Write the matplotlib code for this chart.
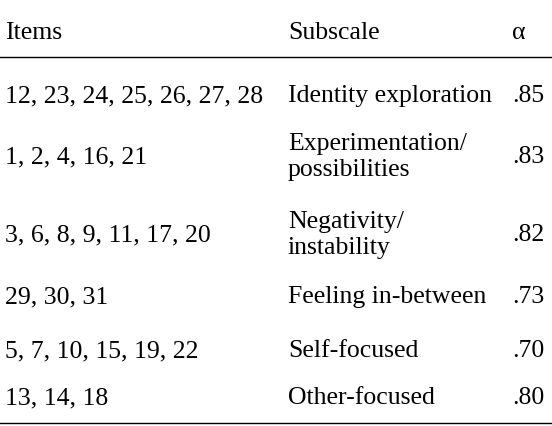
import matplotlib
matplotlib.use("Agg")
import matplotlib.pyplot as plt

items = ["12, 23, 24, 25, 26, 27, 28", "1, 2, 4, 16, 21", "3, 6, 8, 9, 11, 17, 20",
         "29, 30, 31", "5, 7, 10, 15, 19, 22", "13, 14, 18"]
subscales = ["Identity exploration", "Experimentation/\npossibilities", "Negativity/\ninstability",
             "Feeling in-between", "Self-focused", "Other-focused"]
alphas = [".85", ".83", ".82", ".73", ".70", ".80"]
headers = ["Items", "Subscale", "α"]
row_y = [96, 157, 235, 297, 351, 398]

W, H = 552, 427
fig = plt.figure(figsize=(W/100, H/100), dpi=100)
ax = fig.add_axes([0, 0, 1, 1])
ax.set_xlim(0, W); ax.set_ylim(H, 0); ax.axis("off")
fs = 18.5
fam = "Liberation Serif"
cols = [5, 288, 512]
for x, h in zip(cols, headers):
    ax.text(x, 33, h, fontsize=fs, family=fam, va="center", ha="left")
ax.plot([0, W], [58, 58], color="black", lw=1)
ax.plot([0, W], [424, 424], color="black", lw=1)
for y, it, s, a in zip(row_y, items, subscales, alphas):
    ax.text(cols[0], y, it, fontsize=fs, family=fam, va="center")
    ax.text(cols[1], y, s, fontsize=fs, family=fam, va="center", linespacing=1.2)
    ax.text(cols[2], y, a, fontsize=fs, family=fam, va="center")
fig.savefig("out.png", dpi=100)
